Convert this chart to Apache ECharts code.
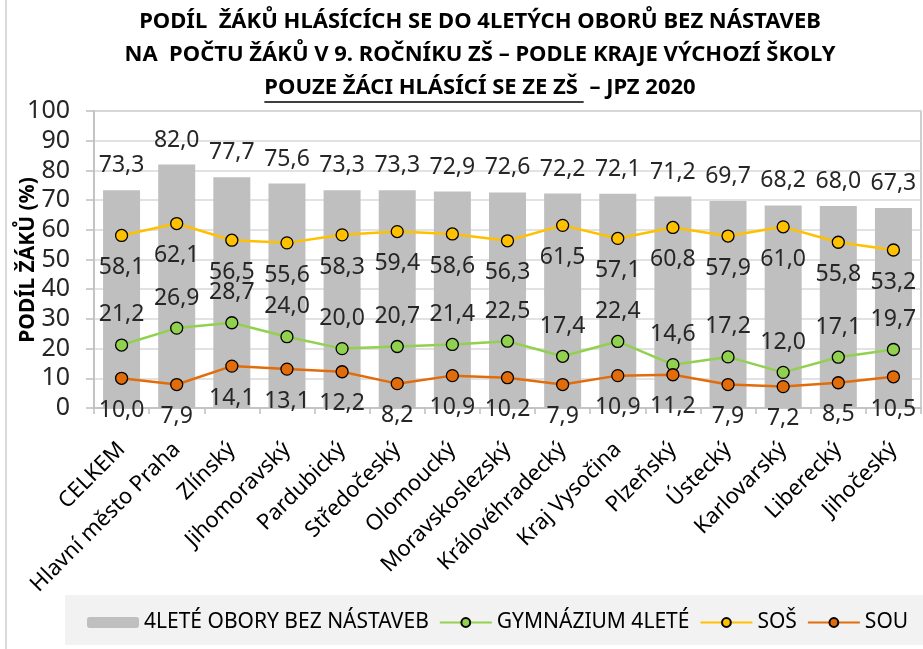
<!DOCTYPE html>
<html lang="cs">
<head>
    <meta charset="UTF-8"/>
    <title>Podíl žáků hlásících se do 4letých oborů</title>
    <script src="https://cdn.jsdelivr.net/npm/echarts@6.0.0/dist/echarts.min.js"></script>
    <style>
        * { margin: 0; padding: 0; box-sizing: border-box; }
        body { background: #fff; }
        #gen { width: 923px; height: 649px; }
    </style>
</head>
<body>
<div id="gen"></div>
<script>
    const kraje = ['CELKEM', 'Hlavní město Praha', 'Zlínský', 'Jihomoravský', 'Pardubický', 'Středočeský',
        'Olomoucký', 'Moravskoslezský', 'Královéhradecký', 'Kraj Vysočina', 'Plzeňský', 'Ústecký',
        'Karlovarský', 'Liberecký', 'Jihočeský'];
    const obory4 = [73.3, 82.0, 77.7, 75.6, 73.3, 73.3, 72.9, 72.6, 72.2, 72.1, 71.2, 69.7, 68.2, 68.0, 67.3];
    const sos = [58.1, 62.1, 56.5, 55.6, 58.3, 59.4, 58.6, 56.3, 61.5, 57.1, 60.8, 57.9, 61.0, 55.8, 53.2];
    const gymnazium = [21.2, 26.9, 28.7, 24.0, 20.0, 20.7, 21.4, 22.5, 17.4, 22.4, 14.6, 17.2, 12.0, 17.1, 19.7];
    const sou = [10.0, 7.9, 14.1, 13.1, 12.2, 8.2, 10.9, 10.2, 7.9, 10.9, 11.2, 7.9, 7.2, 8.5, 10.5];
    const yTicks = [0, 100, 10];

    const FONT = "'Noto Sans', sans-serif";
    const titleFont = "bold 22px 'Noto Sans'";
    const line3a = 'POUZE ŽÁCI HLÁSÍCÍ SE ZE ZŠ ';
    const line3 = line3a + ' – JPZ 2020';

    // sirka podtrzene casti titulku
    const cnv = document.createElement('canvas').getContext('2d');
    cnv.font = titleFont;
    const w3 = cnv.measureText(line3).width;
    const w3a = cnv.measureText(line3a).width;
    const cx = 480;

    const fmt = p => p.value.toFixed(1).replace('.', ',');
    const lbl = {fontFamily: FONT, fontSize: 23, color: '#262626', formatter: fmt};

    function lineSeries(name, data, color, pos, dist) {
        return {
            name: name,
            type: 'line',
            data: data,
            symbol: 'circle',
            symbolSize: 12,
            lineStyle: {color: color, width: 2.5},
            itemStyle: {color: color, borderColor: '#000', borderWidth: 1.3},
            label: Object.assign({show: true, position: pos, distance: dist}, lbl),
            z: 3
        };
    }

    const chart = echarts.init(document.getElementById('gen'));
    chart.setOption({
        animation: false,
        textStyle: {fontFamily: FONT},
        grid: {left: 94, right: 2, top: 111, bottom: 241, show: true, borderColor: '#bfbfbf', borderWidth: 1.5},
        graphic: [
            {type: 'rect', shape: {x: 6, y: -10, width: 940, height: 700}, style: {fill: 'none', stroke: '#d0d0d0', lineWidth: 1.5}},
            {type: 'rect', shape: {x: 65, y: 595, width: 870, height: 50}, style: {fill: '#f2f2f2'}, z: -1},
            {type: 'text', x: cx, y: 22, style: {text: 'PODÍL  ŽÁKŮ HLÁSÍCÍCH SE DO 4LETÝCH OBORŮ BEZ NÁSTAVEB', font: titleFont, fill: '#000', align: 'center', verticalAlign: 'middle'}},
            {type: 'text', x: cx, y: 55, style: {text: 'NA  POČTU ŽÁKŮ V 9. ROČNÍKU ZŠ – PODLE KRAJE VÝCHOZÍ ŠKOLY', font: titleFont, fill: '#000', align: 'center', verticalAlign: 'middle'}},
            {type: 'text', x: cx, y: 88, style: {text: line3, font: titleFont, fill: '#000', align: 'center', verticalAlign: 'middle'}},
            {type: 'line', shape: {x1: cx - w3 / 2, y1: 102, x2: cx - w3 / 2 + w3a, y2: 102}, style: {stroke: '#000', lineWidth: 1.5}},
            {type: 'text', x: 28, y: 260, rotation: Math.PI / 2, style: {text: 'PODÍL ŽÁKŮ (%)', font: "bold 21px 'Noto Sans'", fill: '#000', align: 'center', verticalAlign: 'middle'}}
        ],
        legend: {
            left: 82, right: 0, top: 607, itemGap: 10, itemWidth: 52, itemHeight: 11,
            textStyle: {fontFamily: FONT, fontSize: 21, color: '#000'},
            data: ['4LETÉ OBORY BEZ NÁSTAVEB', 'GYMNÁZIUM 4LETÉ', 'SOŠ', 'SOU']
        },
        xAxis: {
            type: 'category',
            data: kraje,
            axisLine: {lineStyle: {color: '#bfbfbf', width: 1.5}},
            axisTick: {show: true, length: 6, lineStyle: {color: '#bfbfbf', width: 1.5}},
            axisLabel: {rotate: 45, margin: 38, interval: 0, fontFamily: FONT, fontSize: 22, color: '#000'}
        },
        yAxis: {
            type: 'value',
            min: yTicks[0], max: yTicks[1], interval: yTicks[2],
            axisLine: {show: true, lineStyle: {color: '#bfbfbf', width: 1.5}},
            axisTick: {show: true, length: 8, lineStyle: {color: '#bfbfbf', width: 1.5}},
            splitLine: {lineStyle: {color: '#d9d9d9', width: 1.5}},
            axisLabel: {margin: 24, fontFamily: FONT, fontSize: 25, color: '#262626'}
        },
        series: [
            {
                name: '4LETÉ OBORY BEZ NÁSTAVEB',
                type: 'bar',
                data: obory4,
                barWidth: 37,
                itemStyle: {color: '#bfbfbf'},
                label: Object.assign({show: true, position: 'top', distance: 13}, lbl),
                z: 2
            },
            lineSeries('GYMNÁZIUM 4LETÉ', gymnazium, '#92d050', 'top', 12),
            lineSeries('SOŠ', sos, '#ffc000', 'bottom', 14),
            lineSeries('SOU', sou, '#e36c0a', 'bottom', 14)
        ]
    });
</script>
</body>
</html>
